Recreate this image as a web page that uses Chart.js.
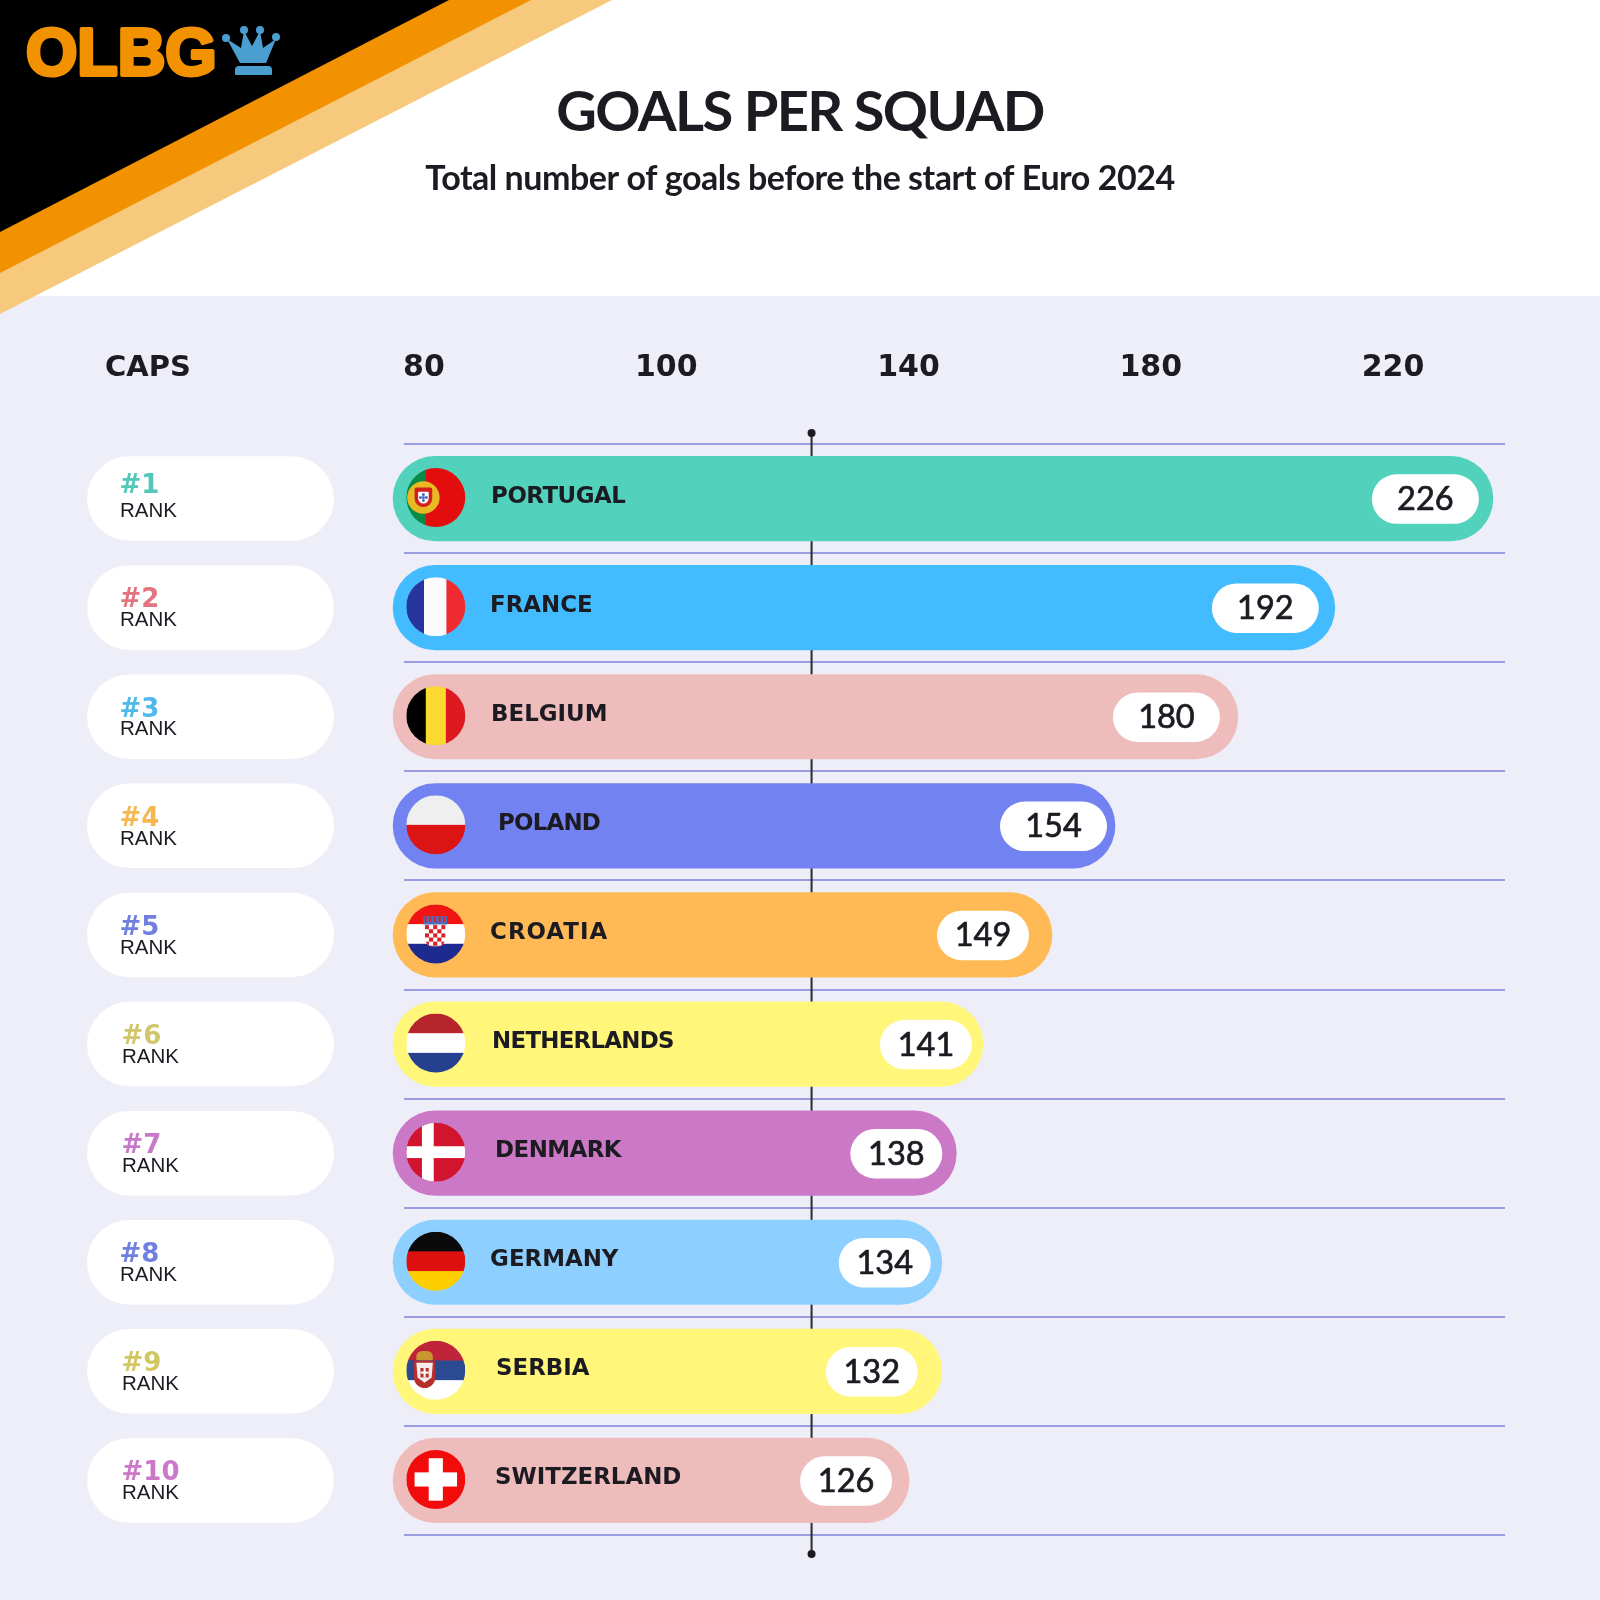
<!DOCTYPE html>
<html><head><meta charset="utf-8">
<script src="https://cdn.jsdelivr.net/npm/chart.js@4"></script>
<style>html,body{margin:0;padding:0;background:#fff}canvas{display:block}</style>
</head><body><canvas id="c" width="1600" height="1600"></canvas>
<script>
// ---- values ----
const countries = ['PORTUGAL','FRANCE','BELGIUM','POLAND','CROATIA','NETHERLANDS','DENMARK','GERMANY','SERBIA','SWITZERLAND'];
const goals = [226,192,180,154,149,141,138,134,132,126];            // printed in the white pills
// The picture's bars do not follow their printed numbers: these are the bar ends read against the axis
const barEnds = [236.5,210.4,194.4,174.1,163.7,152.3,147.9,145.5,145.5,140.1];
const barStart = 54.9;
const tickValues = [60,100,140,180,220];                            // evenly spaced axis positions
const tickLabels = ['80','100','140','180','220'];                  // what the picture prints there
const axisMin = 56.7, axisMax = 238.5;
const markerValue = 124;
const ranks = ['#1','#2','#3','#4','#5','#6','#7','#8','#9','#10'];

// ---- styles ----
const barColors = ['#52d1bd','#43bcff','#efbcbc','#7382f1','#ffba55','#fff67a','#cb79c6','#8dd0ff','#fff67a','#efbcbc'];
const rankColors = ['#52c8b8','#e2737f','#4fb9ea','#f6b750','#707fe0','#d2c66a','#c878c8','#6f80e0','#d2c862','#cc78c8'];
const nameDx = [98,97,98,105,97,99,102,97,103,102];
const nameTrack = [-.5,0,0,-.8,1,-.75,-.55,0,0,0];
const pillGap = [14,16,18,8,23,11,14,11,24,17];
const pillW = [107,107,107,107,92,92,92,92,92,92];
const rankDx = [0,0,0,0,0,2,2,0,2,2];
const INK = '#1d1b22';
const WIDE = '"DejaVu Sans"';

function rr(ctx,x,y,w,h,r){ctx.beginPath();ctx.roundRect(x,y,w,h,r);}
function hStripes(ctx,x,y,R,cols){const h=2*R/cols.length;cols.forEach((c,i)=>{ctx.fillStyle=c;ctx.fillRect(x-R,y-R+i*h,2*R,h+.5);});}
function vStripes(ctx,x,y,R,cols,fr){let cx=x-R;cols.forEach((c,i)=>{ctx.fillStyle=c;ctx.fillRect(cx,y-R,2*R*fr[i]+.5,2*R);cx+=2*R*fr[i];});}
const flags = {
  PORTUGAL(c,x,y,R){
    vStripes(c,x,y,R,['#0b8a45','#e30d0d'],[.33,.67]);
    const sx=x-R*.42;
    c.fillStyle='#e8b923';c.beginPath();c.arc(sx,y,R*.55,0,7);c.fill();
    c.fillStyle='#d3201c';rr(c,sx-R*.3,y-R*.34,R*.6,R*.66,[2,2,R*.3,R*.3]);c.fill();
    c.fillStyle='#fff';rr(c,sx-R*.18,y-R*.2,R*.36,R*.4,[1,1,R*.18,R*.18]);c.fill();
    c.fillStyle='#2b4fb5';[[0,-.1],[-.1,0],[0,0],[.1,0],[0,.1]].forEach(p=>c.fillRect(sx+p[0]*R-1.2,y+p[1]*R-1.2,2.4,2.4));
  },
  FRANCE(c,x,y,R){vStripes(c,x,y,R,['#27339f','#fbfbfd','#ee2b30'],[.3,.38,.32]);},
  BELGIUM(c,x,y,R){vStripes(c,x,y,R,['#000','#fbd92f','#dd1a1f'],[.33,.34,.33]);},
  POLAND(c,x,y,R){hStripes(c,x,y,R,['#efefef','#dc1414']);},
  CROATIA(c,x,y,R){
    hStripes(c,x,y,R,['#f01414','#fff','#1d2a8f']);
    const s=R*.14,sx=x-R*.02,sy=y-R*.3;
    c.fillStyle='#4a6fc0';c.fillRect(sx-R*.4,y-R*.6,R*.8,R*.28);
    c.fillStyle='#d8232a';for(let i=0;i<5;i++)c.fillRect(sx-R*.36+i*R*.16,y-R*.58,R*.07,R*.18);
    c.save();rr(c,sx-2.5*s,sy,5*s,5.2*s,[0,0,s*2,s*2]);c.clip();
    c.fillStyle='#fff';c.fillRect(sx-2.5*s,sy,5*s,5.2*s);
    c.fillStyle='#d8232a';
    for(let i=0;i<5;i++)for(let j=0;j<6;j++)if((i+j)%2===0)c.fillRect(sx-2.5*s+i*s,sy+j*s,s,s);
    c.restore();
  },
  NETHERLANDS(c,x,y,R){hStripes(c,x,y,R,['#b5252b','#fff','#25408f']);},
  DENMARK(c,x,y,R){
    c.fillStyle='#d3142f';c.fillRect(x-R,y-R,2*R,2*R);
    c.fillStyle='#fff';c.fillRect(x-R,y-R*.2,2*R,R*.4);c.fillRect(x-R*.47,y-R,R*.4,2*R);
  },
  GERMANY(c,x,y,R){hStripes(c,x,y,R,['#0a0a0a','#dd0f0f','#ffce00']);},
  SERBIA(c,x,y,R){
    hStripes(c,x,y,R,['#c0243a','#2a4a94','#fff']);
    const sx=x-R*.38;
    c.fillStyle='#c9962f';rr(c,sx-R*.28,y-R*.66,R*.56,R*.32,[R*.2,R*.2,1,1]);c.fill();
    c.fillStyle='#b5302c';rr(c,sx-R*.36,y-R*.32,R*.72,R*.92,[1,1,R*.36,R*.36]);c.fill();
    c.fillStyle='#f4ecec';c.beginPath();c.moveTo(sx-R*.28,y-R*.26);c.lineTo(sx+R*.28,y-R*.26);c.lineTo(sx+R*.24,y+R*.24);c.lineTo(sx,y+R*.42);c.lineTo(sx-R*.24,y+R*.24);c.fill();
    c.fillStyle='#b5302c';c.fillRect(sx-R*.14,y-R*.08,R*.28,R*.32);
    c.fillStyle='#fff';c.fillRect(sx-R*.035,y-R*.08,R*.07,R*.32);c.fillRect(sx-R*.14,y+R*.04,R*.28,R*.07);
  },
  SWITZERLAND(c,x,y,R){
    c.fillStyle='#f20b0b';c.fillRect(x-R,y-R,2*R,2*R);
    c.fillStyle='#fff';c.fillRect(x-R*.24,y-R*.72,R*.48,R*1.44);c.fillRect(x-R*.72,y-R*.24,R*1.44,R*.48);
  }
};

const chrome = {
  id:'chrome',
  beforeDraw(ch){
    const c=ch.ctx;c.save();
    c.fillStyle='#fff';c.fillRect(0,0,1600,1600);
    c.fillStyle='#eeeef8';c.fillRect(0,296,1600,1304);
    const tri=(col,tx,ly)=>{c.fillStyle=col;c.beginPath();c.moveTo(0,0);c.lineTo(tx,0);c.lineTo(0,ly);c.fill();};
    tri('#f6c97c',612,314);tri('#f39200',531,273);tri('#000',449,232);
    // logo
    c.fillStyle='#f39200';c.strokeStyle='#f39200';c.lineWidth=4;c.lineJoin='round';
    c.font='bold 66px "Liberation Sans"';c.textBaseline='alphabetic';c.textAlign='left';
    c.strokeText('OLBG',26,75);c.fillText('OLBG',26,75);
    c.fillStyle='#4a9fd0';
    c.beginPath();c.moveTo(240,63);c.lineTo(227,39);c.lineTo(241,48);c.lineTo(244,31);c.lineTo(252,46);c.lineTo(260,31);c.lineTo(263,48);c.lineTo(276,39);c.lineTo(266,63);c.fill();
    [[226,38],[244,30],[260,30],[276,37]].forEach(p=>{c.beginPath();c.arc(p[0],p[1],4,0,7);c.fill();});
    rr(c,235,66,37,9,[4,4,1,1]);c.fill();
    // titles
    c.fillStyle=INK;c.textAlign='center';c.textBaseline='middle';
    c.letterSpacing='-1.6px';c.font='bold 56px Lato';c.fillText('GOALS PER SQUAD',800,113);
    c.letterSpacing='-0.47px';c.font='bold 34px Lato';c.fillText('Total number of goals before the start of Euro 2024',800,179);
    c.letterSpacing='0px';
    c.font='bold 29px '+WIDE;c.fillText('CAPS',148,368.5);
    // left rank pills
    const ys=ch.scales.y;
    countries.forEach((_,i)=>{
      const y=ys.getPixelForTick(i);
      c.fillStyle='#fff';rr(c,87,y-42.25,247,84.5,42.25);c.fill();
      const up=i===0?12.5:7, dn=12;
      c.textAlign='left';c.fillStyle=rankColors[i];c.font='bold 26px '+WIDE;
      c.fillText(ranks[i],119.5+rankDx[i],y-up);
      c.fillStyle=INK;c.font='20.5px "Liberation Sans"';c.fillText('RANK',120+rankDx[i],y+dn+1);
    });
    c.restore();
  },
  beforeDatasetsDraw(ch){
    const c=ch.ctx,a=ch.chartArea,x=ch.scales.x.getPixelForValue(markerValue);
    c.save();c.strokeStyle='#2a2a30';c.lineWidth=2;c.beginPath();c.moveTo(x,a.top-11);c.lineTo(x,a.bottom+19);c.stroke();
    c.fillStyle='#1d1b22';[a.top-11,a.bottom+19].forEach(y=>{c.beginPath();c.arc(x,y,4,0,7);c.fill();});
    c.restore();
  },
  afterDatasetsDraw(ch){
    const c=ch.ctx,xs=ch.scales.x,ys=ch.scales.y,x0=xs.getPixelForValue(barStart);
    c.save();
    countries.forEach((name,i)=>{
      const y=ys.getPixelForTick(i),R=29.5,fx=x0+42.7,fy=y-1;
      c.save();c.beginPath();c.arc(fx,fy,R,0,7);c.clip();flags[name](c,fx,fy,R);c.restore();
      c.fillStyle=INK;c.font='bold 22.9px '+WIDE;c.textAlign='left';c.textBaseline='middle';
      c.letterSpacing=nameTrack[i]+'px';
      c.fillText(name,x0+nameDx[i],y-2);
      c.letterSpacing='0px';
      const right=xs.getPixelForValue(barEnds[i])-pillGap[i];
      c.fillStyle='#fff';rr(c,right-pillW[i],y-24.25,pillW[i],49.5,24.75);c.fill();
      c.fillStyle=INK;c.strokeStyle=INK;c.lineWidth=.7;c.font='32.5px Lato';c.textAlign='center';
      c.fillText(String(goals[i]),right-pillW[i]/2,y+1);
      c.strokeText(String(goals[i]),right-pillW[i]/2,y+1);
    });
    c.restore();
  }
};

new Chart(document.getElementById('c'),{
  type:'bar',
  data:{labels:countries,datasets:[{
    data:barEnds.map(e=>[barStart,e]),
    backgroundColor:barColors,
    borderRadius:42.25,borderSkipped:false,barThickness:84.5,clip:false
  }]},
  options:{
    indexAxis:'y',responsive:false,animation:false,devicePixelRatio:1,
    layout:{padding:{left:404,right:95,top:293,bottom:65}},
    plugins:{legend:{display:false},title:{display:false},tooltip:{enabled:false}},
    scales:{
      x:{type:'linear',position:'top',min:axisMin,max:axisMax,
        afterBuildTicks(s){s.ticks=tickValues.map(v=>({value:v}));},
        grid:{display:false,drawTicks:false},border:{display:false},
        ticks:{autoSkip:false,maxRotation:0,padding:57.5,color:INK,
          font:{family:'DejaVu Sans',weight:'bold',size:30},
          callback:(v,i)=>tickLabels[i]}
      },
      y:{type:'category',grid:{offset:true,color:'#9a9ee0',lineWidth:2,drawTicks:false},
        border:{display:false},ticks:{display:false}}
    }
  },
  plugins:[chrome]
});
</script></body></html>
